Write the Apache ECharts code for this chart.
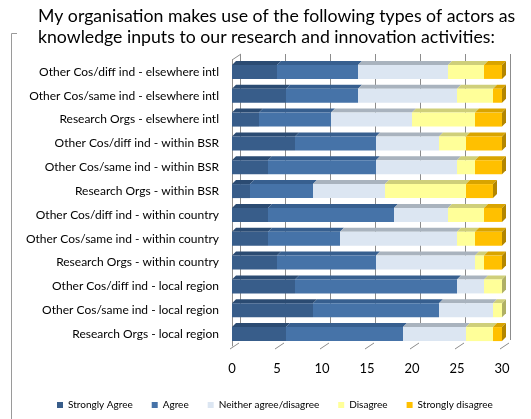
<!DOCTYPE html>
<html>
<head>
<meta charset="utf-8">
<script src="https://cdn.jsdelivr.net/npm/echarts@6/dist/echarts.min.js"></script>
<style>
  html, body { margin: 0; padding: 0; background: #fff; }
  #chart { width: 531px; height: 419px; }
</style>
</head>
<body>
<div id="chart"></div>
<script>
// categories, top row first
const categories = [
  'Other Cos/diff ind - elsewhere intl',
  'Other Cos/same ind - elsewhere intl',
  'Research Orgs - elsewhere intl',
  'Other Cos/diff ind - within BSR',
  'Other Cos/same ind - within BSR',
  'Research Orgs - within BSR',
  'Other Cos/diff ind - within country',
  'Other Cos/same ind - within country',
  'Research Orgs - within country',
  'Other Cos/diff ind - local region',
  'Other Cos/same ind - local region',
  'Research Orgs - local region'
];
const stronglyAgree    = [5, 6, 3, 7, 4, 2, 4, 4, 5, 7, 9, 6];
const agree            = [9, 8, 8, 9, 12, 7, 14, 8, 11, 18, 14, 13];
const neither          = [10, 11, 9, 7, 9, 8, 6, 13, 11, 3, 6, 7];
const disagree         = [4, 4, 7, 3, 2, 9, 4, 2, 1, 2, 1, 3];
const stronglyDisagree = [2, 1, 3, 4, 3, 3, 2, 3, 2, 0, 0, 1];
const xTicks = [0, 5, 10, 15, 20, 25, 30];

const seriesNames = ['Strongly Agree', 'Agree', 'Neither agree/disagree', 'Disagree', 'Strongly disagree'];
const seriesData = [stronglyAgree, agree, neither, disagree, stronglyDisagree];
const frontColors = ['#385d8a', '#4673a8', '#dce6f2', '#ffff99', '#ffc000'];
const topColors   = ['#2b4b72', '#375f8f', '#a9b3be', '#cfcf7a', '#d9a400'];
const sideColors  = ['#24405f', '#2f5079', '#8f98a2', '#b0b064', '#b38600'];

// segments for the 3D top / side faces
const faces = [];
categories.forEach((c, i) => {
  let acc = 0;
  let last = -1;
  seriesData.forEach((arr, s) => { if (arr[i] > 0) last = s; });
  seriesData.forEach((arr, s) => {
    if (arr[i] > 0) faces.push([i, acc, acc + arr[i], s, s === last ? 1 : 0]);
    acc += arr[i];
  });
});

const DX = 4, DY = -4, HALF = 7;
const chart = echarts.init(document.getElementById('chart'));
const font = 'Lato, "Open Sans", sans-serif';

const option = {
  animation: false,
  textStyle: { fontFamily: font },
  title: {
    text: 'My organisation makes use of the following types of actors as\nknowledge inputs to our research and innovation activities:',
    left: 38,
    top: 6,
    padding: 0,
    textStyle: { fontFamily: font, fontSize: 17.7, fontWeight: 'normal', color: '#000', lineHeight: 21 }
  },
  legend: {
    left: 52,
    top: 395,
    itemWidth: 6,
    itemHeight: 6,
    itemGap: 19,
    icon: 'rect',
    textStyle: { fontSize: 10, color: '#000', fontFamily: font },
    data: seriesNames
  },
  grid: [
    { left: 232, right: 29, top: 60, bottom: 73 },
    { left: 240, right: 21, top: 54, bottom: 79 }
  ],
  xAxis: [
    {
      gridIndex: 0, type: 'value', min: 0, max: 30, interval: 5,
      axisLine: { show: false }, axisTick: { show: false }, splitLine: { show: false },
      axisLabel: { fontSize: 13, color: '#000', margin: 16, fontFamily: font }
    },
    {
      gridIndex: 1, type: 'value', min: 0, max: 30, interval: 5,
      axisLine: { show: false }, axisTick: { show: false }, axisLabel: { show: false },
      splitLine: { show: true, lineStyle: { color: '#8c8c8c', width: 1 } }
    }
  ],
  yAxis: [
    {
      gridIndex: 0, type: 'category', data: categories, inverse: true,
      axisLine: { show: true, lineStyle: { color: '#8c8c8c' } },
      axisTick: { show: false },
      axisLabel: { fontSize: 12, color: '#000', margin: 13, fontFamily: font }
    },
    {
      gridIndex: 1, type: 'category', data: categories, inverse: true, show: false
    }
  ],
  series: seriesNames.map((name, s) => ({
    name: name,
    type: 'bar',
    stack: 'total',
    xAxisIndex: 0, yAxisIndex: 0,
    barWidth: 14,
    itemStyle: { color: frontColors[s] },
    data: seriesData[s],
    z: 3
  })).concat([
    {
      type: 'custom',
      xAxisIndex: 0, yAxisIndex: 0,
      data: faces,
      z: 3,
      silent: true,
      renderItem: function (params, api) {
        const y = api.value(0);
        const a = api.coord([api.value(1), y]);
        const b = api.coord([api.value(2), y]);
        const s = api.value(3);
        const top = a[1] - HALF;
        const children = [{
          type: 'polygon',
          shape: { points: [[a[0], top], [b[0], top], [b[0] + DX, top + DY], [a[0] + DX, top + DY]] },
          style: { fill: topColors[s] }
        }];
        if (api.value(4)) {
          children.push({
            type: 'polygon',
            shape: { points: [[b[0], top], [b[0] + DX, top + DY], [b[0] + DX, top + DY + 2 * HALF], [b[0], top + 2 * HALF]] },
            style: { fill: sideColors[s] }
          });
        }
        return { type: 'group', children: children };
      }
    },
    {
      // floor diagonals of the 3D frame
      type: 'custom',
      xAxisIndex: 0, yAxisIndex: 0,
      data: xTicks.map(v => [v]),
      z: 1,
      silent: true,
      renderItem: function (params, api) {
        const cs = params.coordSys;
        const x = api.coord([api.value(0), 0])[0] - 2;
        const y0 = cs.y + cs.height + 3;
        const lines = [{
          type: 'line',
          shape: { x1: x, y1: y0, x2: x + 9, y2: y0 - 6 },
          style: { stroke: '#8c8c8c', lineWidth: 1 }
        }];
        if (params.dataIndex === 0) {
          lines.push({
            type: 'line',
            shape: { x1: cs.x, y1: cs.y, x2: cs.x + 9, y2: cs.y - 6 },
            style: { stroke: '#8c8c8c', lineWidth: 1 }
          });
        }
        return { type: 'group', children: lines };
      }
    }
  ]),
  graphic: [
    {
      type: 'polyline',
      shape: { points: [[17, 33.5], [11.5, 33.5], [11.5, 419]] },
      style: { stroke: '#9a9a9a', lineWidth: 1, fill: null }
    }
  ]
};
chart.setOption(option);
</script>
</body>
</html>
